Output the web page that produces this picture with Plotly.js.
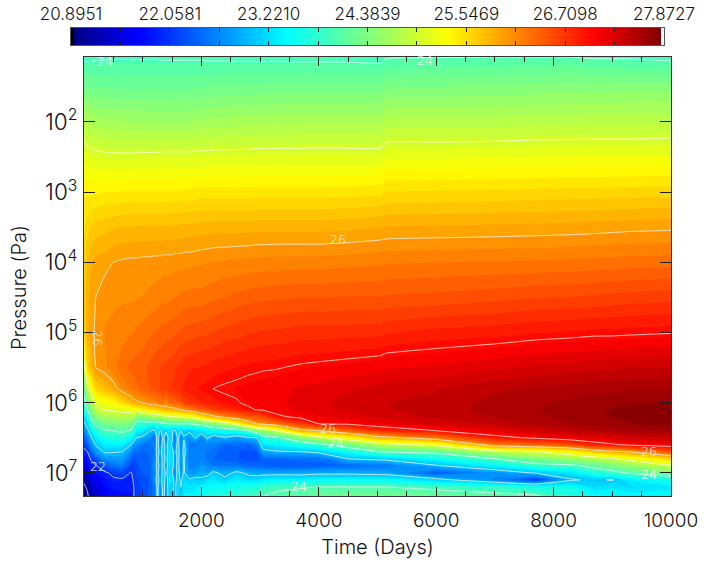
<!DOCTYPE html>
<html>
<head>
<meta charset="utf-8">
<script src="https://cdn.plot.ly/plotly-3.0.1.min.js"></script>
<style>html,body{margin:0;padding:0;background:#fff}#chart{width:707px;height:565px}</style>
</head>
<body>
<div id="chart"></div>
<script>
var timeDays = [0,60,120,200,350,500,650,800,850,900,1000,1100,1200,1250,1300,1350,1400,1450,1500,1550,1600,1650,1700,1800,1900,2000,2100,2200,2400,2600,2800,2950,3050,3300,3700,4000,4500,5050,5150,6000,7000,7700,8300,8700,9000,9300,10000];
var logPressure = [1.074,1.2,1.5,2,2.5,3,3.5,4,4.5,5,5.5,5.8,6,6.1,6.2,6.3,6.4,6.5,6.6,6.7,6.8,6.9,7,7.1,7.2,7.33];
var temperatureByTime = [
[23.95,24.05,24.3,24.8,25.17,25.4,25.5,25.6,25.65,25.55,24.9,24.2,23.8,23.6,23.2,22.9,22.6,22.3,22.1,21.9,21.7,21.5,21.3,21.05,20.95,20.9],
[23.95,24.04,24.28,24.72,25.12,25.4,25.6,25.78,25.85,25.85,25.6,24.9,24.3,24.0,23.6,23.2,22.9,22.6,22.3,22.0,21.8,21.6,21.4,21.2,21.05,20.95],
[23.96,24.04,24.27,24.7,25.1,25.4,25.65,25.85,25.93,25.95,25.8,25.2,24.7,24.4,24.1,23.8,23.3,22.95,22.7,22.4,22.05,21.85,21.7,21.5,21.3,21.2],
[23.97,24.04,24.25,24.67,25.07,25.4,25.7,25.92,26.0,26.02,26.0,25.6,25.1,24.85,24.45,24.05,23.7,23.35,23.03,22.7,22.3,21.97,21.8,21.6,21.45,21.35],
[23.98,24.05,24.25,24.65,25.06,25.42,25.72,25.95,26.08,26.12,26.08,25.75,25.25,25.03,24.7,24.3,23.95,23.65,23.35,23.05,22.7,22.3,21.93,21.8,21.7,21.6],
[23.98,24.05,24.25,24.63,25.05,25.42,25.75,26.0,26.09,26.15,26.2,25.9,25.35,25.07,24.7,24.35,24.0,23.68,23.35,23.03,22.75,22.45,22.08,21.95,21.85,21.75],
[23.98,24.05,24.24,24.62,25.05,25.43,25.77,26.02,26.1,26.18,26.3,26.12,25.55,25.12,24.8,24.42,24.08,23.75,23.38,23.0,22.8,22.55,22.2,21.95,21.85,21.8],
[23.98,24.05,24.24,24.62,25.05,25.44,25.78,26.03,26.1,26.22,26.38,26.25,25.8,25.2,24.75,24.35,23.95,23.5,23.0,22.7,22.4,22.15,21.97,21.9,21.85,21.8],
[23.98,24.05,24.24,24.62,25.05,25.44,25.78,26.03,26.1,26.23,26.39,26.28,25.9,25.3,24.8,24.1,23.7,23.3,22.75,22.4,22.25,22.15,22.1,22.05,22.0,22.0],
[23.98,24.05,24.24,24.62,25.06,25.44,25.78,26.03,26.11,26.25,26.4,26.32,25.95,25.2,24.4,23.8,23.4,23.0,22.7,22.45,22.3,22.25,22.2,22.15,22.1,22.1],
[23.98,24.05,24.24,24.61,25.06,25.44,25.78,26.04,26.12,26.28,26.42,26.38,26.0,25.4,24.5,23.8,23.35,22.9,22.5,22.35,22.3,22.35,22.3,22.25,22.2,22.2],
[23.98,24.05,24.24,24.61,25.06,25.44,25.78,26.04,26.14,26.31,26.48,26.45,26.1,25.5,24.6,23.8,23.05,22.8,22.4,22.45,22.35,22.3,22.35,22.25,22.3,22.3],
[23.98,24.05,24.24,24.6,25.06,25.44,25.78,26.05,26.16,26.35,26.54,26.52,26.15,25.6,24.7,23.7,22.9,22.4,22.6,22.5,22.6,22.7,22.6,22.7,22.5,22.5],
[23.98,24.05,24.24,24.6,25.07,25.44,25.78,26.05,26.17,26.36,26.56,26.55,26.2,25.65,24.75,23.8,23.25,23.2,23.15,23.25,23.1,23.15,23.1,23.2,23.1,23.1],
[23.97,24.05,24.24,24.6,25.07,25.44,25.78,26.05,26.18,26.38,26.58,26.58,26.25,25.7,24.8,23.85,22.95,22.6,22.7,22.8,22.7,22.85,22.7,22.8,22.7,22.7],
[23.97,24.05,24.24,24.6,25.07,25.44,25.78,26.06,26.19,26.39,26.6,26.6,26.3,25.75,24.85,23.9,23.25,23.1,23.2,23.3,23.2,23.1,23.2,23.3,23.15,23.1],
[23.97,24.05,24.24,24.6,25.07,25.44,25.78,26.06,26.2,26.4,26.62,26.63,26.1,25.9,24.9,23.95,23.1,22.6,22.8,22.7,22.85,22.8,22.9,22.7,22.8,22.8],
[23.97,24.05,24.24,24.6,25.07,25.44,25.78,26.06,26.21,26.41,26.64,26.67,26.35,25.85,24.95,24.0,23.3,23.2,23.3,23.4,23.35,23.25,23.3,23.4,23.2,23.15],
[23.97,24.05,24.24,24.6,25.07,25.44,25.78,26.06,26.22,26.42,26.65,26.7,26.35,25.85,25.0,24.0,23.0,23.1,22.9,23.15,23.25,23.1,23.05,23.3,23.1,23.0],
[23.97,24.05,24.24,24.6,25.07,25.44,25.79,26.07,26.23,26.44,26.68,26.73,26.4,25.9,25.0,24.0,22.95,22.5,22.6,22.8,22.7,22.8,22.6,22.8,22.9,22.9],
[23.97,24.05,24.24,24.6,25.07,25.44,25.79,26.07,26.24,26.46,26.71,26.76,26.45,25.95,25.05,24.0,23.2,23.15,23.25,23.3,23.15,23.2,23.25,23.2,23.3,23.2],
[23.97,24.05,24.24,24.6,25.07,25.44,25.79,26.07,26.25,26.48,26.74,26.79,26.5,26.0,25.05,24.0,23.0,22.6,22.5,22.6,22.7,22.6,22.7,22.9,23.0,23.1],
[23.97,24.05,24.24,24.6,25.07,25.45,25.8,26.08,26.26,26.5,26.77,26.83,26.6,26.1,25.1,24.0,23.15,22.95,23.1,23.15,23.05,23.05,23.05,23.2,23.3,23.35],
[23.97,24.05,24.24,24.6,25.07,25.45,25.8,26.08,26.27,26.52,26.8,26.88,26.7,26.2,25.15,24.0,23.1,22.7,22.5,22.55,22.5,22.6,22.7,23.05,23.3,23.35],
[23.97,24.05,24.25,24.62,25.08,25.46,25.81,26.09,26.28,26.53,26.81,26.92,26.75,26.3,25.3,24.1,23.25,23.05,22.5,22.6,22.55,22.6,22.75,23.15,23.3,23.4],
[23.97,24.05,24.25,24.63,25.08,25.47,25.82,26.1,26.28,26.55,26.82,26.95,26.8,26.45,25.6,24.2,23.3,22.6,22.6,22.55,22.6,22.75,22.9,23.05,23.4,23.5],
[23.96,24.05,24.26,24.64,25.08,25.47,25.82,26.11,26.3,26.56,26.84,26.97,26.84,26.52,25.75,24.35,23.45,23.08,22.55,22.5,22.5,22.6,22.8,23.25,23.5,23.6],
[23.96,24.05,24.27,24.65,25.09,25.47,25.83,26.12,26.32,26.58,26.87,27.0,26.88,26.6,25.9,24.5,23.55,22.75,22.6,22.45,22.4,22.5,23.1,23.3,23.5,23.6],
[23.96,24.05,24.27,24.66,25.09,25.47,25.83,26.13,26.35,26.62,26.9,27.03,26.95,26.75,26.15,24.8,23.6,22.95,22.4,22.35,22.3,22.55,22.85,23.1,23.55,23.7],
[23.95,24.05,24.28,24.67,25.09,25.47,25.83,26.14,26.38,26.65,26.93,27.05,26.98,26.83,26.3,25.2,23.7,22.75,22.45,22.3,22.3,22.5,23.1,23.35,23.6,23.75],
[23.95,24.05,24.28,24.68,25.09,25.47,25.83,26.15,26.41,26.68,26.96,27.07,27.05,26.95,26.45,25.75,24.0,22.95,22.4,22.25,22.2,22.4,22.9,23.2,23.65,23.85],
[23.95,24.05,24.29,24.68,25.1,25.47,25.84,26.16,26.42,26.7,26.97,27.09,27.08,27.02,26.5,26.0,24.5,23.02,22.6,22.3,22.2,22.4,22.85,23.2,23.7,23.9],
[23.95,24.05,24.29,24.69,25.1,25.47,25.84,26.16,26.43,26.71,26.98,27.1,27.1,27.03,26.6,26.1,24.6,23.75,23.25,22.85,22.4,22.35,22.85,23.3,23.8,24.0],
[23.95,24.05,24.3,24.69,25.1,25.47,25.84,26.17,26.44,26.72,26.99,27.12,27.14,27.1,26.95,26.3,25.0,23.9,23.4,22.95,22.4,22.3,22.85,23.4,23.95,24.05],
[23.94,24.05,24.3,24.7,25.1,25.47,25.84,26.17,26.46,26.75,27.03,27.18,27.2,27.2,27.08,26.7,25.85,24.5,23.65,23.0,22.45,22.3,22.85,23.35,23.97,24.15],
[23.94,24.05,24.3,24.7,25.1,25.47,25.84,26.17,26.46,26.75,27.05,27.2,27.25,27.24,27.15,27.0,26.0,24.85,23.85,23.1,22.45,22.35,22.9,23.45,24.0,24.2],
[23.93,24.05,24.3,24.7,25.1,25.48,25.85,26.19,26.47,26.76,27.08,27.26,27.32,27.3,27.22,27.05,26.4,25.3,24.3,23.55,23.0,22.4,22.9,23.45,24.0,24.25],
[23.9,24.04,24.3,24.7,25.1,25.5,25.88,26.21,26.47,26.77,27.12,27.32,27.38,27.38,27.3,27.15,26.8,25.85,24.8,24.0,23.1,22.5,22.85,23.45,24.0,24.3],
[23.98,24.1,24.36,24.77,25.17,25.54,25.89,26.22,26.48,26.8,27.14,27.33,27.39,27.38,27.32,27.16,26.82,25.88,24.85,24.02,23.12,22.5,22.85,23.45,24.0,24.3],
[23.99,24.12,24.37,24.77,25.17,25.55,25.9,26.23,26.5,26.85,27.18,27.38,27.43,27.45,27.42,27.3,27.0,26.25,25.15,24.15,23.5,22.95,22.3,23.15,23.9,24.2],
[24.0,24.13,24.4,24.78,25.18,25.56,25.91,26.24,26.54,26.88,27.25,27.48,27.55,27.55,27.52,27.42,27.2,26.9,26.2,24.85,24.0,23.4,22.7,22.6,23.8,24.1],
[24.0,24.14,24.41,24.8,25.19,25.57,25.92,26.25,26.57,26.92,27.3,27.53,27.6,27.62,27.6,27.55,27.35,27.05,26.4,25.0,24.4,23.8,23.05,22.1,23.6,24.05],
[24.0,24.15,24.42,24.8,25.2,25.58,25.93,26.26,26.58,26.94,27.33,27.56,27.65,27.68,27.66,27.62,27.45,27.2,26.55,25.35,24.6,23.9,23.3,22.95,23.55,23.7],
[23.97,24.12,24.43,24.81,25.2,25.58,25.94,26.27,26.6,26.96,27.35,27.58,27.68,27.72,27.7,27.66,27.52,27.25,26.85,25.75,24.75,24.15,23.7,23.08,23.2,23.5],
[23.97,24.11,24.43,24.81,25.2,25.59,25.95,26.28,26.62,26.96,27.37,27.6,27.7,27.75,27.74,27.7,27.56,27.3,26.95,25.9,24.95,24.35,23.85,22.96,23.3,23.45],
[23.97,24.1,24.44,24.81,25.2,25.59,25.96,26.29,26.63,26.97,27.38,27.61,27.72,27.78,27.77,27.73,27.6,27.35,27.05,26.0,25.15,24.55,24.05,23.35,23.2,23.4],
[23.95,24.06,24.45,24.82,25.21,25.6,25.97,26.3,26.65,26.99,27.4,27.62,27.75,27.87,27.85,27.8,27.65,27.4,27.15,26.5,25.6,24.95,24.35,23.6,23.3,23.4]
];
var barTickValues = [20.8951,22.0581,23.2210,24.3839,25.5469,26.7098,27.8727];
var barTickMarks = [21.4766,22.6395,23.8025,24.9654,26.1283,27.2913];
var xMajorTicks = [2000,4000,6000,8000,10000];
var xMinorTicks = [500,1000,1500,2500,3000,3500,4500,5000,5500,6500,7000,7500,8500,9000,9500];
var labelText = ['24','24','26','26','26','24','24','22','26','24'];
var labelTime = [358,5810,4327,240,4157,4300,3663,240,9625,9625];
var labelLogP = [1.145,1.117,3.68,5.08,6.37,6.575,7.2,6.915,6.7,7.03];
var labelAngle = [0,0,0,90,0,0,0,0,0,0];

var pressure = logPressure.map(function(v){return Math.pow(10,v);});
var zRows = logPressure.map(function(_,r){return temperatureByTime.map(function(c){return c[r];});});
var jet = [[0,'rgb(0,0,128)'],[0.11,'rgb(0,0,255)'],[0.125,'rgb(0,10,255)'],[0.365,'rgb(0,255,255)'],[0.635,'rgb(255,255,0)'],[0.885,'rgb(255,0,0)'],[1,'rgb(128,0,0)']];
var barScale = [[0,'#000'],[0.004,'#000'],[0.0041,'rgb(0,0,128)'],[0.11,'rgb(0,0,255)'],[0.125,'rgb(0,10,255)'],[0.365,'rgb(0,255,255)'],[0.635,'rgb(255,255,0)'],[0.885,'rgb(255,0,0)'],[0.996,'rgb(128,0,0)'],[0.9961,'#fff'],[1,'#fff']];
var barMin = barTickValues[0], barMax = barTickValues[6];
var barX = [];
for (var i = 0; i <= 592; i++) barX.push(barMin + (barMax - barMin) * i / 592);

var FONT = 'Inter';
var TXT = '#111';
var traces = [
 {type:'contour',x:timeDays,y:pressure,z:zRows,zmin:barMin,zmax:barMax,colorscale:jet,showscale:false,
  contours:{coloring:'fill',start:20.895,end:27.87,size:0.116,showlines:false},line:{width:0,smoothing:0},hoverinfo:'skip'},
 {type:'contour',x:timeDays,y:pressure,z:zRows,showscale:false,
  contours:{coloring:'none',start:21,end:27,size:1,showlabels:false},line:{color:'rgba(255,255,255,0.8)',width:0.9,smoothing:0.3},hoverinfo:'skip'},
 {type:'heatmap',x:barX,y:[0,1],z:[barX,barX],xaxis:'x2',yaxis:'y2',zmin:barMin,zmax:barMax,colorscale:barScale,showscale:false,zsmooth:false,hoverinfo:'skip'}
];
var annotations = labelText.map(function(t,i){
 return {text:t,x:labelTime[i],y:labelLogP[i],xref:'x',yref:'y',showarrow:false,textangle:labelAngle[i],
  font:{family:'DejaVu Sans',size:12.5,color:'#fff'},borderpad:0};
});
annotations.push({text:'Pressure (Pa)',xref:'paper',yref:'paper',x:19/707,y:1-288/565,showarrow:false,textangle:-90,
  xanchor:'center',yanchor:'middle',font:{family:FONT,size:20,weight:300,color:TXT}});
var layout = {
 width:707,height:565,margin:{l:0,r:0,t:0,b:0},paper_bgcolor:'#fff',plot_bgcolor:'#fff',showlegend:false,
 font:{family:FONT,size:18,weight:300,color:TXT},annotations:annotations,
 xaxis:{domain:[84/707,671/707],range:[0,10000],anchor:'y',tickmode:'array',tickvals:xMajorTicks,tickformat:'d',ticks:'inside',ticklen:9,tickwidth:1,tickcolor:'#222',ticklabelstandoff:7,
  minor:{tickmode:'array',tickvals:xMinorTicks,ticks:'inside',ticklen:5,tickwidth:1,tickcolor:'#222',showgrid:false},
  showline:true,linecolor:'#333',linewidth:1,mirror:'ticks',showgrid:false,zeroline:false,tickfont:{family:FONT,size:19,weight:300,color:TXT},
  title:{text:'Time (Days)',font:{family:FONT,size:20,weight:300,color:TXT},standoff:9}},
 yaxis:{domain:[1-496/565,1-57/565],type:'log',range:[7.33,1.074],anchor:'x',dtick:1,exponentformat:'power',ticks:'inside',ticklen:11,tickwidth:1,tickcolor:'#222',ticklabelstandoff:2,
  showline:true,linecolor:'#333',linewidth:1,mirror:'ticks',showgrid:false,zeroline:false,tickfont:{family:FONT,size:18,weight:300,color:TXT}},
 xaxis2:{domain:[71/707,664/707],range:[barMin,barMax],anchor:'y2',side:'top',tickmode:'array',tickvals:barTickValues,ticktext:barTickValues.map(function(v){return v.toFixed(4);}),
  ticks:'inside',ticklen:4,tickwidth:1,tickcolor:'#222',minor:{tickmode:'array',tickvals:barTickMarks,ticks:'inside',ticklen:4,tickwidth:1,tickcolor:'#222',showgrid:false},
  showline:true,linecolor:'#555',linewidth:1,mirror:'ticks',showgrid:false,zeroline:false,tickfont:{family:FONT,size:17,weight:300,color:TXT}},
 yaxis2:{domain:[1-45/565,1-28/565],range:[-0.5,1.5],anchor:'x2',showticklabels:false,ticks:'',showline:true,linecolor:'#555',linewidth:1,mirror:true,showgrid:false,zeroline:false}
};
Plotly.newPlot('chart',traces,layout,{staticPlot:true,displayModeBar:false});
</script>
</body>
</html>
